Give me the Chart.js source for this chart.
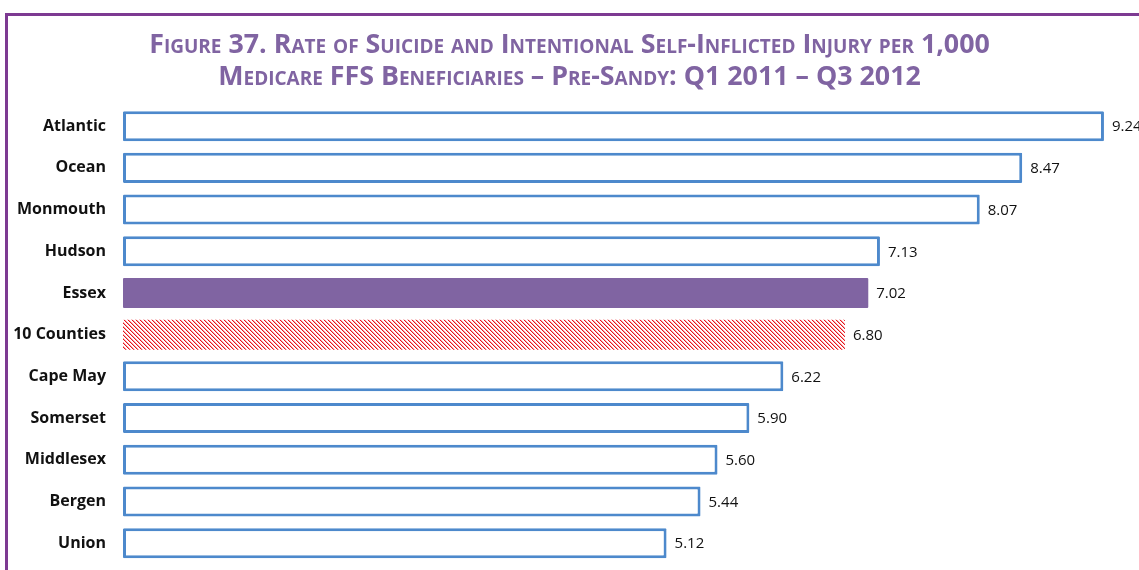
<!DOCTYPE html>
<html>
<head>
<meta charset="utf-8">
<script src="https://cdn.jsdelivr.net/npm/chart.js@4"></script>
<style>
  html, body { margin: 0; padding: 0; background: #fff; }
  #wrap { position: relative; width: 1139px; height: 570px; overflow: hidden; }
  #frame {
    position: absolute; left: 5px; top: 13px; width: 1200px; height: 600px;
    border-top: 3px solid #7D3A92; border-left: 3px solid #7D3A92;
  }
  canvas { position: absolute; left: 0; top: 0; }
</style>
</head>
<body>
<div id="wrap">
  <div id="frame"></div>
  <canvas id="rateChart" width="1139" height="570"></canvas>
</div>
<script>
// Counties and rates per 1,000 beneficiaries
const counties = ['Atlantic', 'Ocean', 'Monmouth', 'Hudson', 'Essex', '10 Counties',
                  'Cape May', 'Somerset', 'Middlesex', 'Bergen', 'Union'];
const rates = [9.24, 8.47, 8.07, 7.13, 7.02, 6.80, 6.22, 5.90, 5.60, 5.44, 5.12];
const titleLines = [
    'Figure 37. Rate of Suicide and Intentional Self-Inflicted Injury per 1,000',
    'Medicare FFS Beneficiaries \u2013 Pre-Sandy: Q1 2011 \u2013 Q3 2012'
];

const BLUE = '#4D89CC';
const PURPLE = '#8064A2';

// Red diagonal hatch used for the 10-county average
function makeHatch() {
    const c = document.createElement('canvas');
    c.width = 4;
    c.height = 4;
    const g = c.getContext('2d');
    g.fillStyle = '#ffffff';
    g.fillRect(0, 0, 4, 4);
    for (let i = 0; i < 4; i++) {
        g.fillStyle = '#E8141C';
        g.fillRect(i, i, 1, 1);
        g.fillStyle = '#F7A5A8';
        g.fillRect((i + 1) % 4, i, 1, 1);
    }
    return c;
}

const ctx = document.getElementById('rateChart');
const hatch = ctx.getContext('2d').createPattern(makeHatch(), 'repeat');

const fills = counties.map(c => c === 'Essex' ? PURPLE : (c === '10 Counties' ? hatch : '#ffffff'));
const borders = counties.map(c => c === 'Essex' || c === '10 Counties' ? 'rgba(0,0,0,0)' : BLUE);
const borderWidths = counties.map(c => c === 'Essex' || c === '10 Counties' ? 0 : 3);

// Value labels to the right of each bar
const valueLabels = {
    id: 'valueLabels',
    afterDatasetsDraw(chart) {
        const g = chart.ctx;
        const meta = chart.getDatasetMeta(0);
        g.save();
        g.font = '15px "Open Sans"';
        g.fillStyle = '#111';
        g.textAlign = 'left';
        g.textBaseline = 'middle';
        meta.data.forEach((bar, i) => {
            g.fillText(rates[i].toFixed(2), bar.x + 8, bar.y + 1);
        });
        g.restore();
    }
};

new Chart(ctx, {
    type: 'bar',
    data: {
        labels: counties,
        datasets: [{
            data: rates,
            backgroundColor: fills,
            borderColor: borders,
            borderWidth: borderWidths,
            borderSkipped: false,
            borderRadius: 1,
            barPercentage: 0.72,
            categoryPercentage: 1
        }]
    },
    options: {
        indexAxis: 'y',
        responsive: false,
        animation: false,
        layout: { padding: { top: 29, bottom: 6, left: 0, right: 0 } },
        plugins: {
            legend: { display: false },
            tooltip: { enabled: false },
            title: {
                display: true,
                text: titleLines,
                color: PURPLE,
                font: { family: '"Open Sans"', size: 26.8, weight: 'small-caps bold', lineHeight: 1.2 },
                padding: { top: 0, bottom: 12 }
            }
        },
        scales: {
            x: {
                display: false,
                min: 0,
                max: 9.57
            },
            y: {
                grid: { display: false, drawTicks: false },
                border: { display: false },
                ticks: {
                    color: '#111',
                    padding: 17,
                    font: { family: '"Open Sans"', size: 16, weight: 'bold' }
                },
                afterFit(axis) {
                    axis.width = 123;
                    axis.paddingTop = 0;
                    axis.paddingBottom = 0;
                }
            }
        }
    },
    plugins: [valueLabels]
});
</script>
</body>
</html>
